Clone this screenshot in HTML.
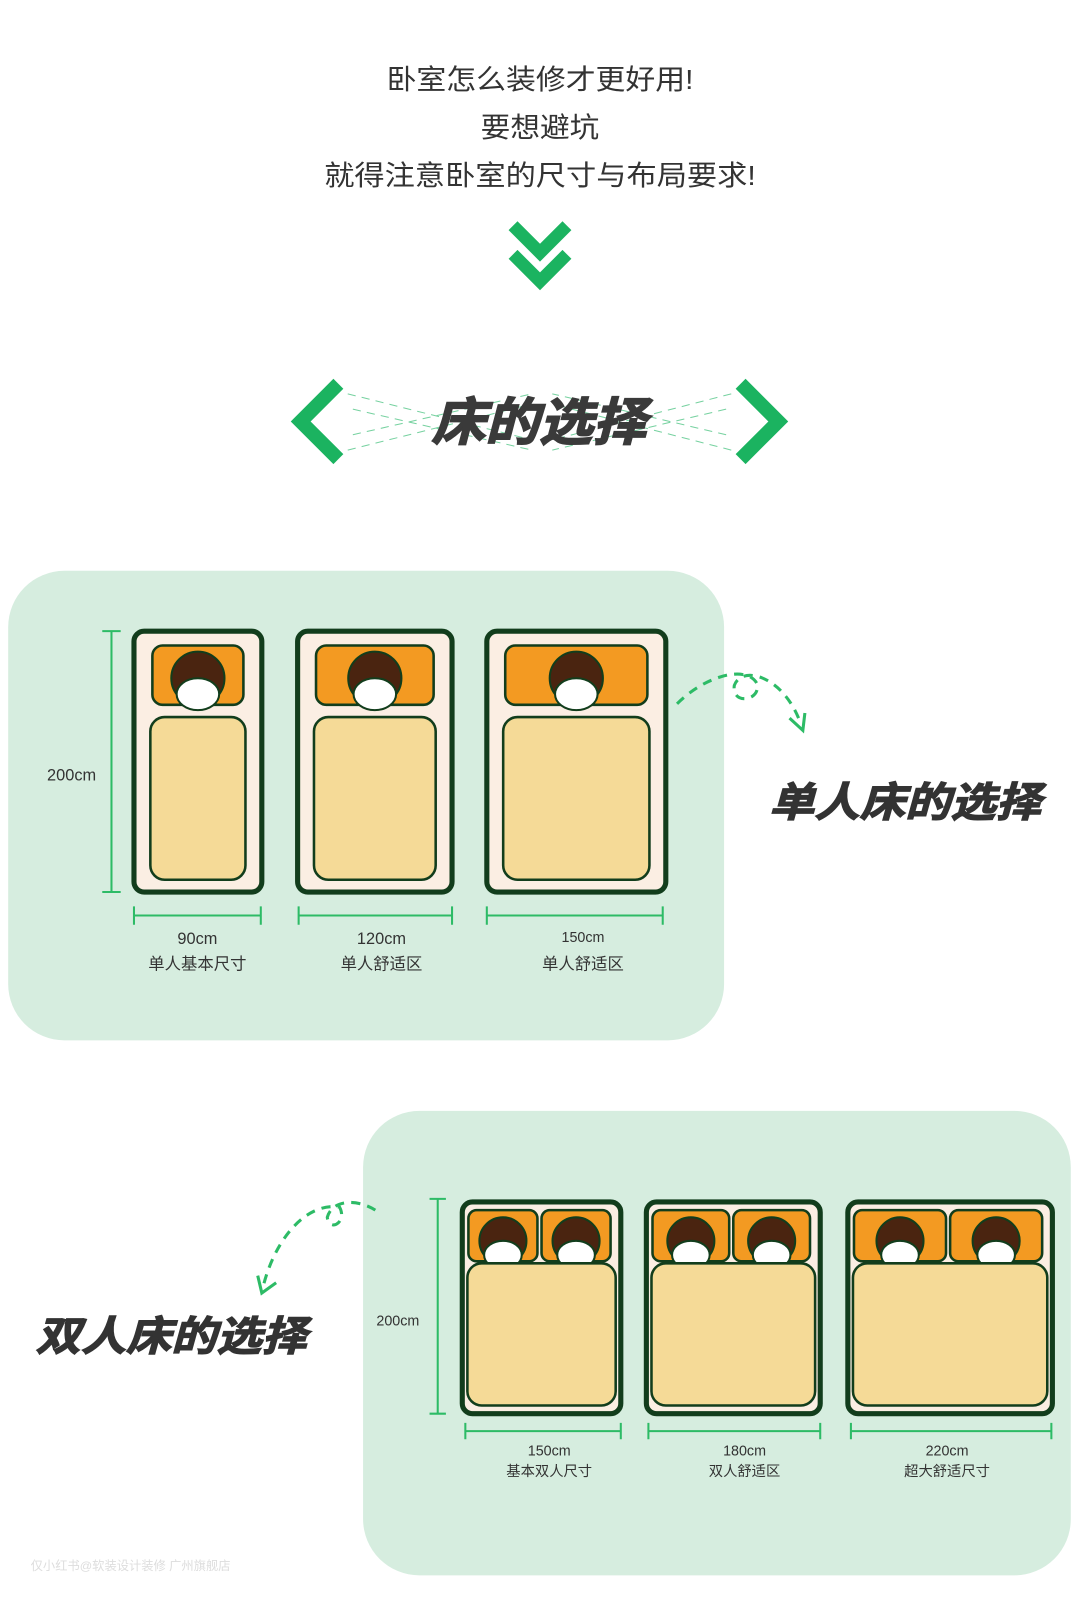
<!DOCTYPE html>
<html><head><meta charset="utf-8"><style>
html,body{margin:0;padding:0;background:#fff;width:1080px;height:1605px;overflow:hidden}
svg{display:block}
.t{font-family:"Liberation Sans","Noto Sans CJK SC",sans-serif}
</style></head><body>
<svg id="s" width="1080" height="1605" viewBox="0 0 1056 1569" preserveAspectRatio="none" xmlns="http://www.w3.org/2000/svg">
<rect width="1056" height="1569" fill="#fff"/>
<g class="t" fill="#333" font-size="27" text-anchor="middle">
<text x="528" y="87" textLength="300" lengthAdjust="spacingAndGlyphs">卧室怎么装修才更好用!</text>
<text x="528" y="134" textLength="116" lengthAdjust="spacingAndGlyphs">要想避坑</text>
<text x="528" y="181" textLength="422" lengthAdjust="spacingAndGlyphs">就得注意卧室的尺寸与布局要求!</text>
</g>
<g fill="#1bb360" stroke="#1bb360" stroke-width="1">
<path d="M498 225 L506 217 L528 239 L550 217 L558 225 L528 255 Z"/>
<path d="M498 253 L506 245 L528 267 L550 245 L558 253 L528 283 Z"/>
</g>
<g stroke="#1bb360" fill="none">
<path d="M285 412 L326 371 L335 380 L303 412 L335 444 L326 453 Z" fill="#1bb360"/>
<path d="M770 412 L729 371 L720 380 L752 412 L720 444 L729 453 Z" fill="#1bb360"/>
<g stroke-dasharray="8 6" stroke-width="1" opacity="0.6">
<path d="M340 385 L520 430"/><path d="M340 440 L520 395"/><path d="M345 400 L520 440"/><path d="M345 425 L520 385"/>
<path d="M715 385 L540 430"/><path d="M715 440 L540 395"/><path d="M710 400 L540 440"/><path d="M710 425 L540 385"/>
</g>
</g>
<text class="t" x="422" y="430" font-size="50" font-weight="bold" font-style="italic" fill="#3a3a3a" textLength="210" lengthAdjust="spacingAndGlyphs" stroke="#3a3a3a" stroke-width="1.5">床的选择</text>

<rect x="8" y="558" width="700" height="459" rx="55" fill="#d6eddf"/>
<rect x="355" y="1086" width="692" height="454" rx="55" fill="#d6eddf"/>
<g id="beds"></g>
<g stroke="#2dbb66" stroke-width="2" fill="none">
<path d="M109 617 V872 M100 617 H118 M100 872 H118"/>
<path d="M131 895 H255 M131 886 V904 M255 886 V904"/>
<path d="M292 895 H442 M292 886 V904 M442 886 V904"/>
<path d="M476 895 H648 M476 886 V904 M648 886 V904"/>
<path d="M428 1172 V1382 M420 1172 H436 M420 1382 H436"/>
<path d="M455 1399 H607 M455 1391 V1407 M607 1391 V1407"/>
<path d="M634 1399 H802 M634 1391 V1407 M802 1391 V1407"/>
<path d="M832 1399 H1028 M832 1391 V1407 M1028 1391 V1407"/>
<g stroke-width="3" stroke-dasharray="9 7">
<path d="M662 688 C690 660 730 650 740 668 C745 685 715 690 718 670 C725 650 765 660 782 705"/>
<path d="M367 1183 C350 1172 325 1172 320 1190 C322 1205 340 1195 332 1180 C300 1175 270 1210 258 1255"/>
</g>
<path d="M772 702 L785 714 L787 697" stroke-width="3"/>
<path d="M252 1247 L256 1264 L270 1254" stroke-width="3"/>
</g>
<g class="t" fill="#333" text-anchor="middle">
<text x="70" y="763" font-size="16">200cm</text>
<text x="193" y="923" font-size="16">90cm</text><text x="193" y="948" font-size="16">单人基本尺寸</text>
<text x="373" y="923" font-size="16">120cm</text><text x="373" y="948" font-size="16">单人舒适区</text>
<text x="570" y="921" font-size="14">150cm</text><text x="570" y="948" font-size="16">单人舒适区</text>
<text x="389" y="1296" font-size="14">200cm</text>
<text x="537" y="1423" font-size="14">150cm</text><text x="537" y="1443" font-size="14">基本双人尺寸</text>
<text x="728" y="1423" font-size="14">180cm</text><text x="728" y="1443" font-size="14">双人舒适区</text>
<text x="926" y="1423" font-size="14">220cm</text><text x="926" y="1443" font-size="14">超大舒适尺寸</text>
</g>
<g class="t" font-size="40" font-weight="bold" font-style="italic" fill="#333" stroke="#333" stroke-width="1.2">
<text x="752" y="798" textLength="266" lengthAdjust="spacingAndGlyphs">单人床的选择</text>
<text x="35" y="1320" textLength="265" lengthAdjust="spacingAndGlyphs">双人床的选择</text>
</g>
<text class="t" x="30" y="1535" font-size="12" fill="#ddd">仅小红书@软装设计装修 广州旗舰店</text>
</svg>
<script>
var g=document.getElementById('beds'),h='';
var D='#123d1c';
function head(cx,cy,r){
 return '<circle cx="'+cx+'" cy="'+cy+'" r="'+r+'" fill="#4a2410" stroke="'+D+'" stroke-width="2"/>'+
 '<ellipse cx="'+cx+'" cy="'+(cy+r*0.6)+'" rx="'+(r*0.8)+'" ry="'+(r*0.6)+'" fill="#fff" stroke="'+D+'" stroke-width="2"/>';
}
function single(x,y,w,hh){
 var s='<rect x="'+x+'" y="'+y+'" width="'+w+'" height="'+hh+'" rx="10" fill="#fbeee3" stroke="'+D+'" stroke-width="5"/>';
 s+='<rect x="'+(x+18)+'" y="'+(y+14)+'" width="'+(w-36)+'" height="58" rx="10" fill="#f39a22" stroke="'+D+'" stroke-width="2.5"/>';
 s+='<rect x="'+(x+16)+'" y="'+(y+84)+'" width="'+(w-32)+'" height="'+(hh-96)+'" rx="14" fill="#f5da97" stroke="'+D+'" stroke-width="2.5"/>';
 s+=head(x+w/2,y+46,26);
 return s;
}
function dbl(x,y,w,hh){
 var s='<rect x="'+x+'" y="'+y+'" width="'+w+'" height="'+hh+'" rx="10" fill="#fbeee3" stroke="'+D+'" stroke-width="5"/>';
 var pw=(w-16)/2-2;
 for(var i=0;i<2;i++){var px=x+6+i*(pw+4);
  s+='<rect x="'+px+'" y="'+(y+8)+'" width="'+pw+'" height="50" rx="8" fill="#f39a22" stroke="'+D+'" stroke-width="2.5"/>';
  s+=head(px+pw/2,y+38,23);}
 s+='<rect x="'+(x+5)+'" y="'+(y+60)+'" width="'+(w-10)+'" height="'+(hh-68)+'" rx="14" fill="#f5da97" stroke="'+D+'" stroke-width="2.5"/>';
 return s;
}
h+=single(131,617,125,255)+single(291,617,151,255)+single(476,617,175,255);
h+=dbl(452,1175,155,207)+dbl(632,1175,170,207)+dbl(829,1175,200,207);
g.innerHTML=h;
</script>
</body></html>
